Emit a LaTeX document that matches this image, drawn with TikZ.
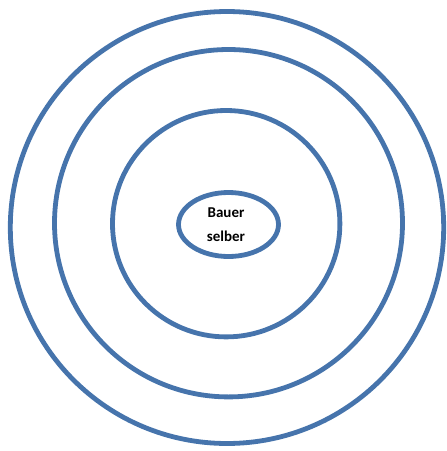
\documentclass[tikz,border=0pt]{standalone}
\usepackage{fontspec}
\setmainfont{Carlito}
\definecolor{ringblue}{RGB}{70,116,172}
\begin{document}
\begin{tikzpicture}[x=1pt,y=-1pt,
  ring/.style={draw=ringblue,line width=4.8pt},
  label/.style={font=\fontsize{15}{24}\selectfont\bfseries,align=center,inner sep=0pt}]
\useasboundingbox (0,0) rectangle (447,451);
\draw[ring] (227,227.5) ellipse [x radius=216.7, y radius=216];
\draw[ring] (228.5,223.2) ellipse [x radius=174, y radius=173.7];
\draw[ring] (226.2,223.7) ellipse [x radius=113.7, y radius=113.2];
\draw[ring] (228.5,224.5) ellipse [x radius=50, y radius=32];
\node[label] (bauer) at (226,225) {Bauer\\selber};
\end{tikzpicture}
\end{document}
